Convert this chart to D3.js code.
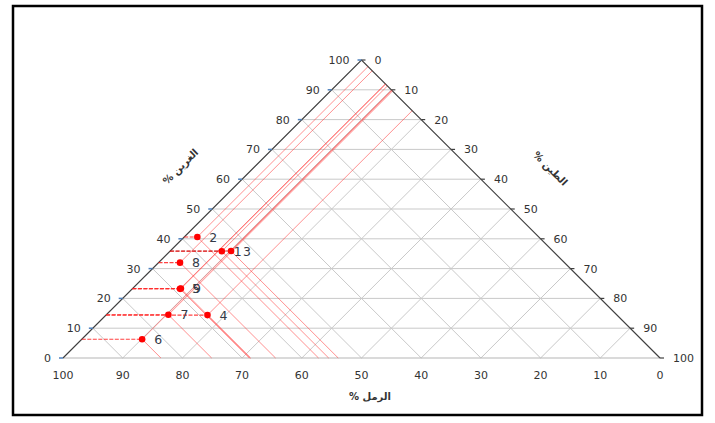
<!DOCTYPE html>
<html>
<head>
<meta charset="utf-8">
<script src="https://cdn.jsdelivr.net/npm/d3@7"></script>
<style>
  body { margin: 0; background: #fff; }
  text { font-family: "DejaVu Sans", Verdana, sans-serif; }
</style>
</head>
<body>
<script>
// عينات التربة (رمل / غرين / طين %)
const sampleIds = ["1", "2", "3", "4", "5", "6", "7", "8", "9"];
const sand = [55.5, 57.2, 53.9, 68.6, 68.8, 83.6, 75.1, 64.4, 68.6];
const silt = [35.8, 40.6, 35.9, 14.4, 23.2, 6.3, 14.5, 32.0, 23.3];
const clay = [8.7, 2.2, 10.2, 17.0, 8.0, 10.1, 10.4, 3.6, 8.1];

const ticks = [0, 10, 20, 30, 40, 50, 60, 70, 80, 90, 100];
const gridValues = [10, 20, 30, 40, 50, 60, 70, 80, 90];

const width = 715, height = 423;

const svg = d3.select("body")
  .append("svg")
  .attr("width", width)
  .attr("height", height);

// الإطار
svg.append("rect")
  .attr("x", 13).attr("y", 6)
  .attr("width", 689).attr("height", 409)
  .attr("fill", "none")
  .attr("stroke", "#000")
  .attr("stroke-width", 2.5);

// x = طين + غرين/2 ، y = غرين
const x = d3.scaleLinear().domain([0, 100]).range([63, 660]);
const y = d3.scaleLinear().domain([0, 100]).range([358, 60]);

function pt(sa, si, cl) {
  return [x(cl + si / 2), y(si)];
}

const line = d3.line();

// الشبكة
const grid = svg.append("g")
  .attr("fill", "none")
  .attr("stroke", "#c9c9c9")
  .attr("stroke-width", 1);

gridValues.forEach(v => {
  grid.append("path").attr("d", line([pt(100 - v, v, 0), pt(0, v, 100 - v)]));
  grid.append("path").attr("d", line([pt(100 - v, 0, v), pt(0, 100 - v, v)]));
  grid.append("path").attr("d", line([pt(v, 100 - v, 0), pt(v, 0, 100 - v)]));
});

// أضلاع المثلث
svg.append("path")
  .attr("d", line([pt(100, 0, 0), pt(0, 0, 100)]))
  .attr("stroke", "#b5b5b5").attr("fill", "none");
svg.append("path")
  .attr("d", line([pt(100, 0, 0), pt(0, 100, 0), pt(0, 0, 100)]))
  .attr("stroke", "#404040").attr("stroke-width", 1.2).attr("fill", "none");

// خطوط القراءة
const guides = svg.append("g").attr("fill", "none");

sampleIds.forEach((id, i) => {
  const p = pt(sand[i], silt[i], clay[i]);
  // رمل
  guides.append("path")
    .attr("d", line([p, pt(sand[i], 0, 100 - sand[i])]))
    .attr("stroke", "#ff3030").attr("stroke-opacity", 0.6).attr("stroke-width", 0.9);
  // طين
  guides.append("path")
    .attr("d", line([p, pt(0, 100 - clay[i], clay[i])]))
    .attr("stroke", "#ff3030").attr("stroke-opacity", 0.6).attr("stroke-width", 0.9);
});

sampleIds.forEach((id, i) => {
  const p = pt(sand[i], silt[i], clay[i]);
  // غرين
  guides.append("path")
    .attr("d", line([pt(100 - silt[i], silt[i], 0), p]))
    .attr("stroke", id === "3" ? "#c00000" : "#ff2020")
    .attr("stroke-opacity", 0.85)
    .attr("stroke-width", 1.1)
    .attr("stroke-dasharray", "4,1.5");
});

// النقاط
svg.append("g")
  .selectAll("circle")
  .data(sampleIds)
  .join("circle")
  .attr("cx", (d, i) => pt(sand[i], silt[i], clay[i])[0])
  .attr("cy", (d, i) => pt(sand[i], silt[i], clay[i])[1])
  .attr("r", 3.3)
  .attr("fill", "#ff0000");

svg.append("g")
  .selectAll("text")
  .data(sampleIds)
  .join("text")
  .attr("x", (d, i) => pt(sand[i], silt[i], clay[i])[0] + 16)
  .attr("y", (d, i) => pt(sand[i], silt[i], clay[i])[1] + 4.5)
  .attr("text-anchor", "middle")
  .attr("font-size", 12.5)
  .attr("fill", "#343a48")
  .text(d => d);

// علامات المحاور
const tickG = svg.append("g").attr("font-size", 11).attr("fill", "#333");

ticks.forEach(v => {
  const l = pt(100 - v, v, 0);
  svg.append("line")
    .attr("x1", l[0] - 4).attr("x2", l[0]).attr("y1", l[1]).attr("y2", l[1])
    .attr("stroke", "#4f81bd").attr("stroke-width", 1.5);
  tickG.append("text")
    .attr("x", l[0] - 12).attr("y", l[1] + 4)
    .attr("text-anchor", "end").text(v);

  const r = pt(0, 100 - v, v);
  svg.append("line")
    .attr("x1", r[0]).attr("x2", r[0] + 4).attr("y1", r[1]).attr("y2", r[1])
    .attr("stroke", "#404040").attr("stroke-width", 1.2);
  tickG.append("text")
    .attr("x", r[0] + 13).attr("y", r[1] + 4)
    .attr("text-anchor", "start").text(v);

  const b = pt(v, 0, 100 - v);
  tickG.append("text")
    .attr("x", b[0]).attr("y", b[1] + 21)
    .attr("text-anchor", "middle").text(v);
});

// عناوين المحاور
const titles = [
  { t: "الغرين %", x: 183, y: 169, a: -45 },
  { t: "الطين %", x: 548, y: 171, a: 45 },
  { t: "الرمل %", x: 370, y: 400, a: 0 }
];

svg.append("g")
  .selectAll("text")
  .data(titles)
  .join("text")
  .attr("transform", d => `translate(${d.x},${d.y}) rotate(${d.a})`)
  .attr("text-anchor", "middle")
  .attr("direction", "rtl")
  .attr("font-size", 10)
  .attr("font-weight", "bold")
  .attr("fill", "#333")
  .text(d => d.t);
</script>
</body>
</html>
